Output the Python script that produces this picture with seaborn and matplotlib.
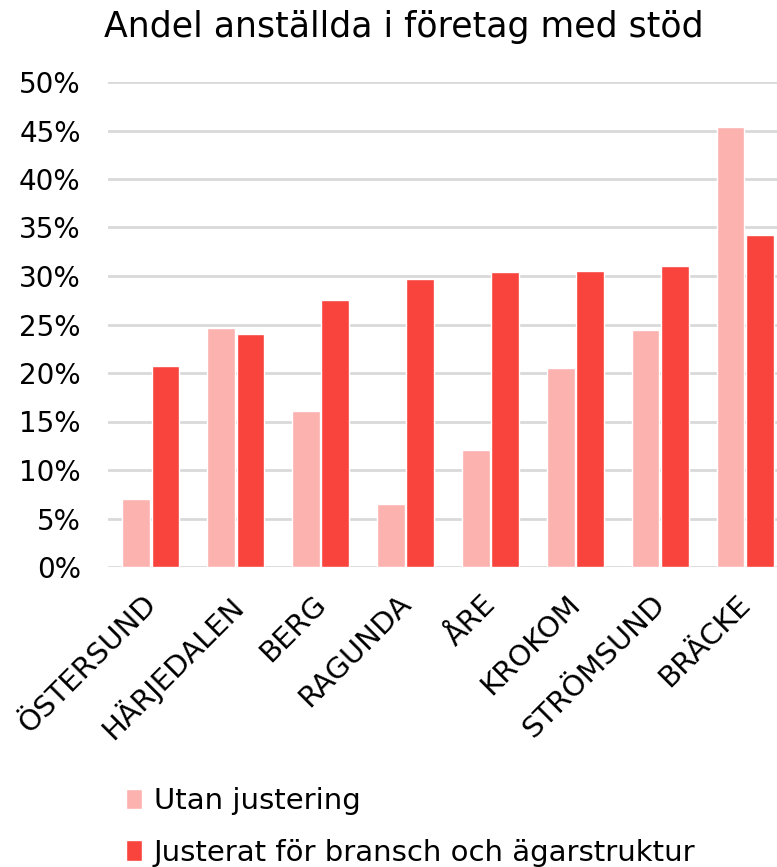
import matplotlib
matplotlib.use("Agg")
import matplotlib.pyplot as plt
import matplotlib.transforms as mtransforms
import seaborn as sns
import pandas as pd
from matplotlib.ticker import PercentFormatter

categories = ["ÖSTERSUND", "HÄRJEDALEN", "BERG", "RAGUNDA", "ÅRE", "KROKOM", "STRÖMSUND", "BRÄCKE"]
utan = [7.05, 24.6, 16.1, 6.5, 12.05, 20.5, 24.4, 45.4]
justerat = [20.75, 24.0, 27.55, 29.7, 30.4, 30.5, 31.0, 34.25]
series_names = ["Utan justering", "Justerat för bransch och ägarstruktur"]
colors = ["#FCB3B0", "#F9433D"]

df = pd.DataFrame({
    "kommun": categories * 2,
    "serie": [series_names[0]] * len(categories) + [series_names[1]] * len(categories),
    "andel": [v / 100 for v in utan] + [v / 100 for v in justerat],
})

sns.set_theme(style="white")
plt.rcParams["font.family"] = ["DejaVu Sans"]
plt.rcParams["text.color"] = "black"

fig = plt.figure(figsize=(7.77, 8.67), dpi=100)
ax = fig.add_axes([108.5 / 777, 1 - 567 / 867, 679 / 777, 485 / 867])

sns.barplot(data=df, x="kommun", y="andel", hue="serie", palette=colors,
            width=0.69, gap=0.05, ax=ax, legend=True, saturation=1)

ax.set_ylim(0, 0.5)
ax.set_yticks([i * 0.05 for i in range(11)])
ax.yaxis.set_major_formatter(PercentFormatter(1.0, decimals=0))
ax.grid(axis="y", color="#D9D9D9", linewidth=2)
ax.set_axisbelow(True)
for s in ax.spines.values():
    s.set_visible(False)
ax.set_xlabel("")
ax.set_ylabel("")
ax.tick_params(axis="y", length=0, labelsize=20, colors="black", pad=20)
ax.tick_params(axis="x", length=0, labelsize=21, colors="black", pad=12)
offset = mtransforms.ScaledTranslation(-9 / 100, -6 / 100, fig.dpi_scale_trans)
for lbl in ax.get_xticklabels():
    lbl.set_rotation(45)
    lbl.set_ha("right")
    lbl.set_rotation_mode("anchor")
    lbl.set_transform(lbl.get_transform() + offset)

handles, labels = ax.get_legend_handles_labels()
ax.legend_.remove()
fig.legend(handles, labels, loc="upper left", bbox_to_anchor=(100 / 777, 1 - 761 / 867),
           frameon=False, fontsize=21, handlelength=0.55, handleheight=0.7,
           handletextpad=0.4, labelspacing=0.8, labelcolor="black")

fig.text(404 / 777, 1 - 27 / 867, "Andel anställda i företag med stöd", ha="center", va="center",
         fontsize=25, color="black")

fig.savefig("out.png", dpi=100)
